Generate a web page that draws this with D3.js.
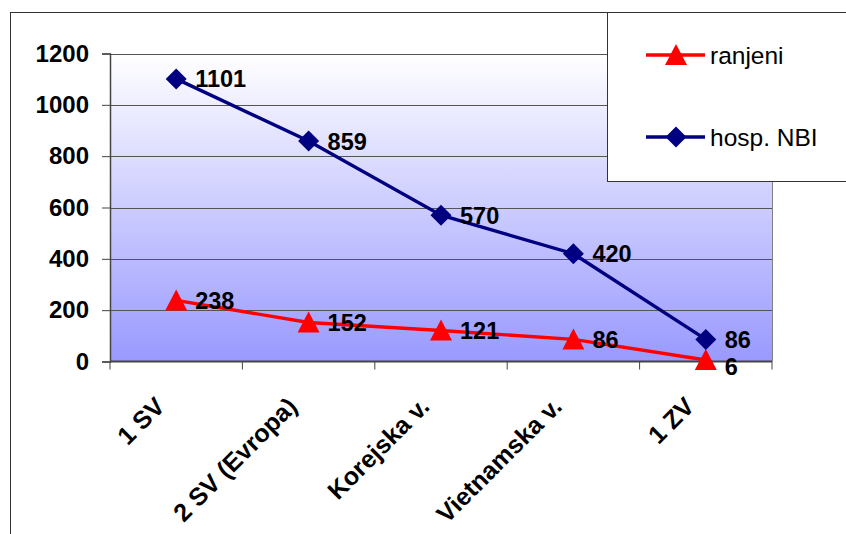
<!DOCTYPE html>
<html>
<head>
<meta charset="utf-8">
<script src="https://cdn.jsdelivr.net/npm/d3@7"></script>
<style>
  html, body { margin: 0; padding: 0; background: #fff; }
  svg { display: block; font-family: "Liberation Sans", Arial, sans-serif; }
</style>
</head>
<body>
<svg id="chart" width="846" height="534"></svg>
<script>
// Categories (wars) and the two series
const categories = ["1 SV", "2 SV (Evropa)", "Korejska v.", "Vietnamska v.", "1 ZV"];
const ranjeni = [238, 152, 121, 86, 6];
const hospNBI = [1101, 859, 570, 420, 86];
const yTicks = [0, 200, 400, 600, 800, 1000, 1200];
const seriesNames = ["ranjeni", "hosp. NBI"];

const svg = d3.select("#chart");

const plot = { left: 110, top: 53.5, right: 772, bottom: 361.5 };

const x = d3.scaleBand().domain(categories).range([plot.left, plot.right]);
const y = d3.scaleLinear().domain([0, 1200]).range([plot.bottom, plot.top]);
const cx = d => x(d) + x.bandwidth() / 2;

// Outer chart border
svg.append("rect")
  .attr("x", 10.5).attr("y", 12.5).attr("width", 900).attr("height", 600)
  .attr("fill", "#fff").attr("stroke", "#333").attr("stroke-width", 1);

// Plot area gradient
const defs = svg.append("defs");
const grad = defs.append("linearGradient").attr("id", "plotGrad")
  .attr("x1", 0).attr("y1", 0).attr("x2", 0).attr("y2", 1);
grad.append("stop").attr("offset", "0%").attr("stop-color", "#ffffff");
grad.append("stop").attr("offset", "100%").attr("stop-color", "#9999ff");

svg.append("rect")
  .attr("x", plot.left).attr("y", plot.top)
  .attr("width", plot.right - plot.left).attr("height", plot.bottom - plot.top)
  .attr("fill", "url(#plotGrad)");

// Right border of the plot area
svg.append("line")
  .attr("x1", plot.right + 0.5).attr("x2", plot.right + 0.5)
  .attr("y1", plot.top).attr("y2", plot.bottom)
  .attr("stroke", "#808080").attr("stroke-width", 1);

// Horizontal gridlines
svg.append("g").selectAll("line").data(yTicks.filter(t => t > 0)).join("line")
  .attr("x1", plot.left).attr("x2", plot.right)
  .attr("y1", d => Math.round(y(d)) + 0.5).attr("y2", d => Math.round(y(d)) + 0.5)
  .attr("stroke", "#555").attr("stroke-width", 1);

// Y axis
const yAxis = svg.append("g")
  .attr("transform", `translate(${plot.left},0)`)
  .call(d3.axisLeft(y).tickValues(yTicks).tickFormat(d3.format("d"))
    .tickSize(8).tickPadding(13));
yAxis.select(".domain").attr("stroke", "#444").attr("stroke-width", 1.5);
yAxis.selectAll(".tick line").attr("stroke", "#444");
yAxis.selectAll(".tick text")
  .attr("font-size", 24).attr("font-weight", "bold").attr("fill", "#000")
  .attr("font-family", "Liberation Sans, Arial, sans-serif");

// X axis with ticks on category boundaries
const xAxisG = svg.append("g").attr("transform", `translate(0,${plot.bottom})`);
xAxisG.append("line")
  .attr("x1", plot.left).attr("x2", plot.right)
  .attr("stroke", "#444").attr("stroke-width", 2);
const bounds = categories.map(c => x(c)).concat([plot.right]);
xAxisG.selectAll("line.tk").data(bounds).join("line").attr("class", "tk")
  .attr("x1", d => d).attr("x2", d => d).attr("y1", 0).attr("y2", 8)
  .attr("stroke", "#444").attr("stroke-width", 1);

// Rotated category labels
svg.append("g").selectAll("text").data(categories).join("text")
  .attr("transform", d => `translate(${cx(d) - 10},${408}) rotate(-45)`)
  .attr("text-anchor", "end")
  .attr("font-size", 25).attr("font-weight", "bold").attr("fill", "#000")
  .text(d => d);

// Series definitions
const series = [
  { name: seriesNames[0], values: ranjeni, color: "#ff0000", marker: "triangle" },
  { name: seriesNames[1], values: hospNBI, color: "#000080", marker: "diamond" }
];

const triPath = "M0,-11 L11,10 L-11,10 Z";
const diaPath = "M0,-10.5 L10.5,0 L0,10.5 L-10.5,0 Z";
const markerPath = m => m === "triangle" ? triPath : diaPath;

const line = d3.line().x((d, i) => cx(categories[i])).y(d => y(d));

series.forEach(s => {
  const g = svg.append("g");
  g.append("path").datum(s.values)
    .attr("d", line).attr("fill", "none")
    .attr("stroke", s.color).attr("stroke-width", 3.4);
  g.selectAll("path.mk").data(s.values).join("path").attr("class", "mk")
    .attr("transform", (d, i) => `translate(${cx(categories[i])},${y(d)})`)
    .attr("d", markerPath(s.marker)).attr("fill", s.color);
});

// Data labels to the right of each point; the last ranjeni label is nudged
// down so it does not collide with the hosp. NBI label above it
series.forEach((s, si) => {
  svg.append("g").selectAll("text").data(s.values).join("text")
    .attr("x", (d, i) => cx(categories[i]) + 19)
    .attr("y", (d, i) => y(d) + 8.5 + (si === 0 && i === s.values.length - 1 ? 7 : 0))
    .attr("font-size", 23.5).attr("font-weight", "bold").attr("fill", "#000")
    .text(d => d);
});

// Legend box
const lg = svg.append("g");
lg.append("rect")
  .attr("x", 607.5).attr("y", 12.5).attr("width", 300).attr("height", 169)
  .attr("fill", "#fff").attr("stroke", "#333").attr("stroke-width", 1);
const legendY = [55, 137];
series.forEach((s, i) => {
  lg.append("line")
    .attr("x1", 646).attr("x2", 705).attr("y1", legendY[i]).attr("y2", legendY[i])
    .attr("stroke", s.color).attr("stroke-width", 3.4);
  lg.append("path")
    .attr("transform", `translate(676,${legendY[i]})`)
    .attr("d", markerPath(s.marker)).attr("fill", s.color);
  lg.append("text")
    .attr("x", 710).attr("y", legendY[i] + 8.5)
    .attr("font-size", 24.5).attr("fill", "#000")
    .text(s.name);
});
</script>
</body>
</html>
